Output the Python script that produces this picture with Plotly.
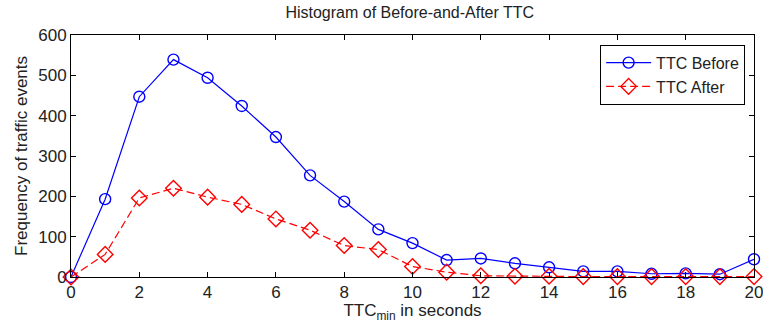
import plotly.graph_objects as go

x_vals = list(range(0, 21))
ttc_before = [0, 193, 447, 539, 494, 424, 347, 252, 187, 118, 84, 42, 46, 34, 24, 14, 14, 8, 9, 7, 44]
ttc_after = [0, 56, 196, 220, 198, 180, 144, 116, 78, 68, 26, 12, 3, 2, 2, 1, 1, 1, 1, 1, 1]
x_ticks = [0, 2, 4, 6, 8, 10, 12, 14, 16, 18, 20]
y_ticks = [0, 100, 200, 300, 400, 500, 600]

fig = go.Figure()
fig.add_trace(go.Scatter(
    x=x_vals, y=ttc_before, name="TTC Before", mode="lines+markers",
    line=dict(color="#0000ff", width=1.2),
    marker=dict(symbol="circle-open", size=11, color="#0000ff", line=dict(width=1.4)),
    cliponaxis=False))
fig.add_trace(go.Scatter(
    x=x_vals, y=ttc_after, name="TTC After", mode="lines+markers",
    line=dict(color="#ff0000", width=1.2, dash="8px,4px"),
    marker=dict(symbol="diamond-open", size=12, color="#ff0000", line=dict(width=1.4)),
    cliponaxis=False))

axis_common = dict(showline=True, linecolor="black", linewidth=1, mirror="allticks",
                   ticks="inside", ticklen=5, tickcolor="black", showgrid=False,
                   zeroline=False, automargin=False, ticklabeloverflow="allow",
                   tickfont=dict(size=17, color="#222222"))
fig.update_layout(
    width=763, height=323,
    margin=dict(l=71, r=9, t=35, b=46),
    paper_bgcolor="white", plot_bgcolor="white",
    font=dict(family="Liberation Sans, Arial, sans-serif", color="#222222", size=17),
    title=dict(text="Histogram of Before-and-After TTC", x=0.537, xanchor="center",
               y=0.963, yanchor="middle", font=dict(size=16)),
    xaxis=dict(range=[0, 20], tickvals=x_ticks,
               title=dict(text="TTC<sub>min</sub> in seconds", standoff=0, font=dict(size=17)),
               **axis_common),
    yaxis=dict(range=[0, 600], tickvals=y_ticks,
               title=dict(text="Frequency of traffic events", standoff=6, font=dict(size=17)),
               **axis_common),
    legend=dict(x=0.987, y=0.96, xanchor="right", yanchor="top",
                bordercolor="black", borderwidth=1, bgcolor="white",
                font=dict(size=16), tracegroupgap=0, itemwidth=45),
    showlegend=True,
)
fig.write_html("out.html")
